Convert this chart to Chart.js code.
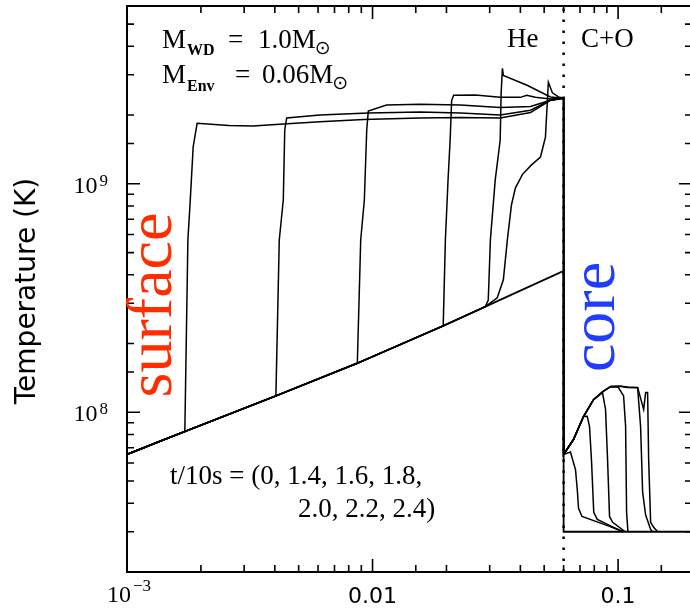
<!DOCTYPE html>
<html>
<head>
<meta charset="utf-8">
<script src="https://cdn.jsdelivr.net/npm/chart.js@4.4.0/dist/chart.umd.min.js"></script>
<style>
html, body { margin: 0; padding: 0; background: #fff; overflow: hidden; }
#wrap { width: 692px; height: 611px; }
</style>
</head>
<body>
<div id="wrap"><canvas id="myChart"></canvas></div>
<script>
// mass coordinate (x) and temperature (K) for each time t/10s
var x00 = [0.001, 0.00142, 0.00404, 0.00867, 0.0194, 0.0288, 0.06, 0.06, 0.2];
var T00 = [6.54e7, 7.6e7, 1.18e8, 1.64e8, 2.39e8, 2.9e8, 4.16e8, 3.0e7, 3.0e7];

var x14 = [0.001, 0.00142, 0.00172, 0.00177, 0.00181, 0.00186, 0.00193, 0.0026, 0.00325, 0.0045, 0.0061, 0.0092, 0.0156, 0.0228, 0.0331, 0.044, 0.053, 0.06, 0.06, 0.064, 0.0671, 0.0683, 0.069, 0.0713, 0.09, 0.105];
var T14 = [6.54e7, 7.6e7, 8.23e7, 5.68e8, 8.49e8, 1.45e9, 1.84e9, 1.80e9, 1.79e9, 1.83e9, 1.87e9, 1.91e9, 1.94e9, 1.95e9, 1.94e9, 2.05e9, 2.32e9, 2.37e9, 6.54e7, 6.7e7, 5.6e7, 4.5e7, 3.8e7, 3.5e7, 3.2e7, 3.0e7];

var x16 = [0.001, 0.00142, 0.00404, 0.00417, 0.00433, 0.00439, 0.00447, 0.0061, 0.0096, 0.0156, 0.0228, 0.0331, 0.044, 0.053, 0.06, 0.06, 0.0658, 0.0723, 0.0749, 0.0765, 0.0779, 0.0796, 0.0823, 0.095, 0.105];
var T16 = [6.54e7, 7.6e7, 1.18e8, 5.68e8, 8.49e8, 1.72e9, 1.94e9, 2.0e9, 2.04e9, 2.06e9, 2.04e9, 2.0e9, 2.1e9, 2.32e9, 2.37e9, 6.54e7, 7.6e7, 9.58e7, 9.6e7, 8.66e7, 6.21e7, 3.65e7, 3.4e7, 3.15e7, 3.0e7];

var x18 = [0.001, 0.00142, 0.00404, 0.00867, 0.00895, 0.00926, 0.00947, 0.00961, 0.0114, 0.0156, 0.0228, 0.0331, 0.044, 0.053, 0.06, 0.06, 0.0658, 0.0723, 0.0794, 0.0864, 0.0889, 0.0906, 0.0923, 0.095, 0.107];
var T18 = [6.54e7, 7.6e7, 1.18e8, 1.64e8, 5.68e8, 8.49e8, 1.72e9, 2.08e9, 2.21e9, 2.23e9, 2.21e9, 2.16e9, 2.18e9, 2.32e9, 2.37e9, 6.54e7, 7.6e7, 9.58e7, 1.136e8, 1.22e8, 1.03e8, 6.21e7, 3.5e7, 3.3e7, 3.0e7];

var x20 = [0.001, 0.00142, 0.00404, 0.00867, 0.0194, 0.0198, 0.0203, 0.0207, 0.0210, 0.0214, 0.0262, 0.0331, 0.04, 0.0425, 0.046, 0.053, 0.06, 0.06, 0.0658, 0.0723, 0.0794, 0.0864, 0.0932, 0.1, 0.1053, 0.1073, 0.1083, 0.1097];
var T20 = [6.54e7, 7.6e7, 1.18e8, 1.64e8, 2.39e8, 5.68e8, 1.04e9, 1.55e9, 2.32e9, 2.44e9, 2.45e9, 2.39e9, 2.39e9, 2.44e9, 2.39e9, 2.35e9, 2.37e9, 6.54e7, 7.6e7, 9.58e7, 1.136e8, 1.23e8, 1.295e8, 1.29e8, 1.18e8, 8.7e7, 3.65e7, 3.0e7];

var x22 = [0.001, 0.00142, 0.00404, 0.00867, 0.0194, 0.0288, 0.0296, 0.0302, 0.0316, 0.0331, 0.0334, 0.0338, 0.0341, 0.0426, 0.053, 0.06, 0.06, 0.0658, 0.0723, 0.0794, 0.0864, 0.0932, 0.1024, 0.1093, 0.1201, 0.1235, 0.1259, 0.1295, 0.1357, 0.138];
var T22 = [6.54e7, 7.6e7, 1.18e8, 1.64e8, 2.39e8, 2.9e8, 3.1e8, 5.7e8, 1.04e9, 1.55e9, 2.5e9, 3.2e9, 2.98e9, 2.7e9, 2.4e9, 2.37e9, 6.54e7, 7.6e7, 9.58e7, 1.136e8, 1.23e8, 1.295e8, 1.3e8, 1.285e8, 1.28e8, 8.66e7, 4.46e7, 3.55e7, 3.07e7, 3.0e7];

var x24 = [0.001, 0.00142, 0.00404, 0.00867, 0.0194, 0.0288, 0.0322, 0.0341, 0.0354, 0.0368, 0.0382, 0.0408, 0.0444, 0.0483, 0.0506, 0.052, 0.054, 0.0572, 0.06, 0.06, 0.0658, 0.0723, 0.0794, 0.0864, 0.0932, 0.1024, 0.1093, 0.1201, 0.1271, 0.1295, 0.1319, 0.1332, 0.1357, 0.1396, 0.145];
var T24 = [6.54e7, 7.6e7, 1.18e8, 1.64e8, 2.39e8, 2.9e8, 3.17e8, 3.8e8, 5.68e8, 8.1e8, 9.6e8, 1.1e9, 1.21e9, 1.31e9, 1.6e9, 2.78e9, 2.5e9, 2.4e9, 2.37e9, 6.54e7, 7.6e7, 9.58e7, 1.136e8, 1.23e8, 1.3e8, 1.3e8, 1.29e8, 1.285e8, 1.03e8, 1.22e8, 1.22e8, 6.21e7, 3.3e7, 3.14e7, 3.0e7];

// He / C+O boundary
var xBound = [0.06, 0.06];
var TBound = [2e7, 6e9];

var xTickValues = [0.001, 0.01, 0.1];
var xTickLabels = ['10^\u22123', '0.01', '0.1'];
var yTickValues = [1e8, 1e9];
var yTickLabels = ['10^8', '10^9'];

function pts(xs, ys) {
    return xs.map(function(x, i) { return {x: x, y: ys[i]}; });
}
function curve(label, xs, ys) {
    return {
        label: label, data: pts(xs, ys), showLine: true, borderColor: '#000',
        borderWidth: 1.5, pointRadius: 0, tension: 0, fill: false
    };
}

function isMajor(v) {
    var l = Math.log10(v);
    return Math.abs(l - Math.round(l)) < 1e-6;
}

function drawPow(c, label, x, y, align, big, small, rise) {
    var parts = label.split('^');
    c.font = big;
    var w1 = c.measureText(parts[0]).width;
    var w2 = 0;
    if (parts[1]) { c.font = small; w2 = c.measureText(parts[1]).width + 2; }
    var x0 = x;
    if (align === 'center') x0 = x - (w1 + w2) / 2;
    if (align === 'right') x0 = x - (w1 + w2);
    c.textAlign = 'left';
    c.font = big;
    c.fillText(parts[0], x0, y);
    if (parts[1]) { c.font = small; c.fillText(parts[1], x0 + w1 + 2, y - rise); }
}

// main text then a small sun symbol right after it
function massText(c, txt, x, y) {
    c.font = '27px "Liberation Serif"';
    c.fillText(txt, x, y);
    var w = c.measureText(txt).width;
    c.font = '19px "DejaVu Sans"';
    c.fillText('\u2299', x + w - 1, y + 6);
}

var frame = {
    id: 'frame',
    afterDraw: function(chart) {
        var c = chart.ctx, a = chart.chartArea;
        var xs = chart.scales.x, ys = chart.scales.y;
        c.save();
        c.strokeStyle = '#000';
        c.fillStyle = '#000';
        c.lineWidth = 1.6;
        c.beginPath();
        xs.ticks.forEach(function(t) {
            var px = xs.getPixelForValue(t.value);
            var len = isMajor(t.value) ? 13 : 7;
            c.moveTo(px, a.bottom); c.lineTo(px, a.bottom - len);
            c.moveTo(px, a.top); c.lineTo(px, a.top + len);
        });
        ys.ticks.forEach(function(t) {
            var py = ys.getPixelForValue(t.value);
            var len = isMajor(t.value) ? 13 : 7;
            c.moveTo(a.left, py); c.lineTo(a.left + len, py);
            c.moveTo(a.right, py); c.lineTo(a.right - len, py);
        });
        c.stroke();
        c.lineWidth = 2;
        c.strokeRect(a.left, a.top, a.right - a.left, a.bottom - a.top);

        // tick labels
        c.textBaseline = 'alphabetic';
        xTickValues.forEach(function(v, i) {
            var px = xs.getPixelForValue(v);
            var lab = xTickLabels[i];
            if (lab.indexOf('^') >= 0) {
                drawPow(c, lab, px + 2, a.bottom + 30, 'center', '24px "Liberation Serif"', '17px "Liberation Serif"', 11);
            } else {
                c.font = '22px "DejaVu Sans"';
                c.textAlign = 'center';
                c.fillText(lab, px, a.bottom + 31);
            }
        });
        yTickValues.forEach(function(v, i) {
            var py = ys.getPixelForValue(v);
            drawPow(c, yTickLabels[i], a.left - 19, py + 9, 'right', '24px "Liberation Serif"', '17px "Liberation Serif"', 7);
        });

        // axis title
        c.save();
        c.translate(35, 291);
        c.rotate(-Math.PI / 2);
        c.textAlign = 'center';
        c.font = '28px "DejaVu Sans"';
        c.fillText('Temperature (K)', 0, 0);
        c.restore();

        // annotations
        var serif = '"Liberation Serif"';
        c.textAlign = 'left';
        c.font = '27px ' + serif;
        c.fillText('M', 162, 48);
        c.fillText('=', 228, 48);
        c.fillText('M', 162, 83);
        c.fillText('=', 235, 83);
        massText(c, '1.0M', 258, 48);
        massText(c, '0.06M', 262, 83);
        c.font = 'bold 16px ' + serif;
        c.fillText('WD', 187, 55);
        c.fillText('Env', 187, 91);

        c.font = '27px ' + serif;
        c.fillText('He', 507, 47);
        c.fillText('C+O', 581, 47);
        c.fillText('t/10s = (0, 1.4, 1.6, 1.8,', 170, 484);
        c.fillText('2.0, 2.2, 2.4)', 298, 517);

        c.font = '64px ' + serif;
        c.textAlign = 'center';
        c.save();
        c.translate(171, 305);
        c.rotate(-Math.PI / 2);
        c.fillStyle = '#ff2d00';
        c.fillText('surface', 0, 0);
        c.restore();
        c.save();
        c.translate(614, 317);
        c.rotate(-Math.PI / 2);
        c.fillStyle = '#1f3cff';
        c.fillText('core', 0, 0);
        c.restore();
        c.restore();
    }
};

var ctx = document.getElementById('myChart').getContext('2d');
var initial = curve('0', x00, T00);
initial.borderWidth = 1.8;
var boundary = curve('boundary', xBound, TBound);
boundary.borderDash = [2.5, 8.5];
boundary.borderWidth = 2.5;

var myChart = new Chart(ctx, {
    type: 'scatter',
    data: {
        datasets: [
            initial,
            curve('1.4', x14, T14),
            curve('1.6', x16, T16),
            curve('1.8', x18, T18),
            curve('2.0', x20, T20),
            curve('2.2', x22, T22),
            curve('2.4', x24, T24),
            boundary
        ]
    },
    options: {
        responsive: true,
        maintainAspectRatio: false,
        animation: false,
        layout: { padding: { top: 6, right: 0, bottom: 0, left: 0 } },
        plugins: { legend: { display: false }, tooltip: { enabled: false } },
        scales: {
            x: {
                type: 'logarithmic', min: 0.001, max: 0.2,
                grid: { display: false }, border: { display: false },
                ticks: { display: false },
                afterFit: function(s) { s.height = 39; }
            },
            y: {
                type: 'logarithmic', min: 2e7, max: 6e9,
                grid: { display: false }, border: { display: false },
                ticks: { display: false },
                afterFit: function(s) { s.width = 127; }
            }
        }
    },
    plugins: [frame]
});
</script>
</body>
</html>
